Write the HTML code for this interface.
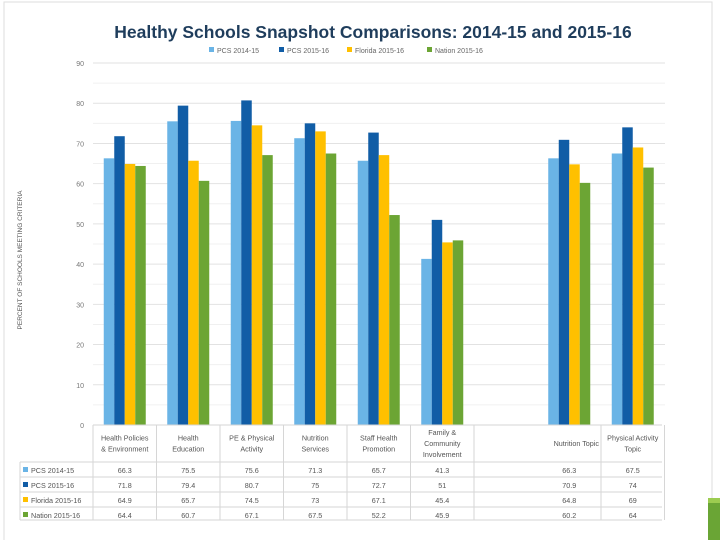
<!DOCTYPE html>
<html><head><meta charset="utf-8"><style>
body{margin:0;width:720px;height:540px;background:#fff;overflow:hidden;font-family:"Liberation Sans",sans-serif}
</style></head><body>
<svg width="720" height="540" xmlns="http://www.w3.org/2000/svg">
<rect x="4" y="2" width="708" height="560" fill="none" stroke="#ddd"/>
<rect x="708" y="498" width="12" height="42" fill="#6aa535"/>
<rect x="708" y="498" width="12" height="5" fill="#9ccc50"/>
<text x="373" y="38" text-anchor="middle" font-size="17.5" font-weight="bold" fill="#1f3d5c">Healthy Schools Snapshot Comparisons: 2014-15 and 2015-16</text>
<g id="legend"></g>
<text transform="translate(22,260) rotate(-90)" text-anchor="middle" font-size="6.5" fill="#555">PERCENT OF SCHOOLS MEETING CRITERIA</text>
<g id="grid"></g><g id="bars"></g><g id="table"></g>
</svg>
<script>
const categories=[["Health Policies","& Environment"],["Health","Education"],["PE & Physical","Activity"],["Nutrition","Services"],["Staff Health","Promotion"],["Family &","Community","Involvement"],[],["Nutrition Topic"],["Physical Activity","Topic"]];
const seriesNames=["PCS 2014-15","PCS 2015-16","Florida 2015-16","Nation 2015-16"];
const pcs1415=[66.3,75.5,75.6,71.3,65.7,41.3,null,66.3,67.5];
const pcs1516=[71.8,79.4,80.7,75,72.7,51,null,70.9,74];
const florida=[64.9,65.7,74.5,73,67.1,45.4,null,64.8,69];
const nation=[64.4,60.7,67.1,67.5,52.2,45.9,null,60.2,64];
const yTicks=[0,10,20,30,40,50,60,70,80,90];
const series=[pcs1415,pcs1516,florida,nation];
const colors=["#6ab4e6","#115da6","#ffc000","#6ca534"];
const NS="http://www.w3.org/2000/svg";
const x0=93,cw=63.5,yB=425,yT=63,ymax=90;
const y=v=>yB-(v/ymax)*(yB-yT);
const cx=i=>x0+cw*(i+0.5);
function mk(t,a,p){const e=document.createElementNS(NS,t);for(const k in a)e.setAttribute(k,a[k]);p.appendChild(e);return e;}
const grid=document.getElementById('grid'),bars=document.getElementById('bars'),tab=document.getElementById('table'),leg=document.getElementById('legend');
for(let v=5;v<=ymax;v+=5){const l=mk('line',{x1:x0,x2:665,y1:y(v),y2:y(v),stroke:v%10?'#f0f0f0':'#e2e2e2'},grid);

}
yTicks.forEach(v=>{const t=mk('text',{x:84,y:y(v)+3,'text-anchor':'end','font-size':7,fill:'#777'},grid);t.textContent=v;

});
const bw=10.5;
series.forEach((s,si)=>s.forEach((v,i)=>{if(v==null)return;
const r=mk('rect',{x:cx(i)-2*bw+si*bw,y:y(v),width:bw,height:yB-y(v),fill:colors[si]},bars);

}));
// legend
let lx=209;
seriesNames.forEach((n,i)=>{mk('rect',{x:lx,y:47,width:5,height:5,fill:colors[i]},leg);
const t=mk('text',{x:lx+8,y:53,'font-size':7,fill:'#666'},leg);t.textContent=n;


lx+=[70,68,80,0][i];});
// table
const tl=20,tr=662,rows=[462,477,492,507,520];
const G='#d6d6d6';
mk('line',{x1:x0,x2:tr,y1:yB,y2:yB,stroke:G},tab);
rows.forEach(r=>mk('line',{x1:tl,x2:tr,y1:r,y2:r,stroke:G},tab));
mk('line',{x1:tl,x2:tl,y1:462,y2:520,stroke:G},tab);
for(let i=0;i<=9;i++){if(i==7)continue;const xx=x0+cw*i;mk('line',{x1:xx,x2:xx,y1:yB,y2:520,stroke:G},tab);}
categories.forEach((c,i)=>{const n=c.length;c.forEach((ln,k)=>{
const t=mk('text',{x:i==7?x0+cw*8-2:cx(i),y:446-(n-1)*5.5+k*11,'text-anchor':i==7?'end':'middle','font-size':7.2,fill:'#555'},tab);t.textContent=ln;

});});
series.forEach((s,si)=>{const ry=rows[si]+11;
mk('rect',{x:23,y:ry-6,width:5,height:5,fill:colors[si]},tab);
const lt=mk('text',{x:31,y:ry,'font-size':7.2,fill:'#555'},tab);lt.textContent=seriesNames[si];


s.forEach((v,i)=>{if(v==null)return;const t=mk('text',{x:cx(i),y:ry,'text-anchor':'middle','font-size':7.2,fill:'#555'},tab);t.textContent=v;

});});
</script>
</body></html>
